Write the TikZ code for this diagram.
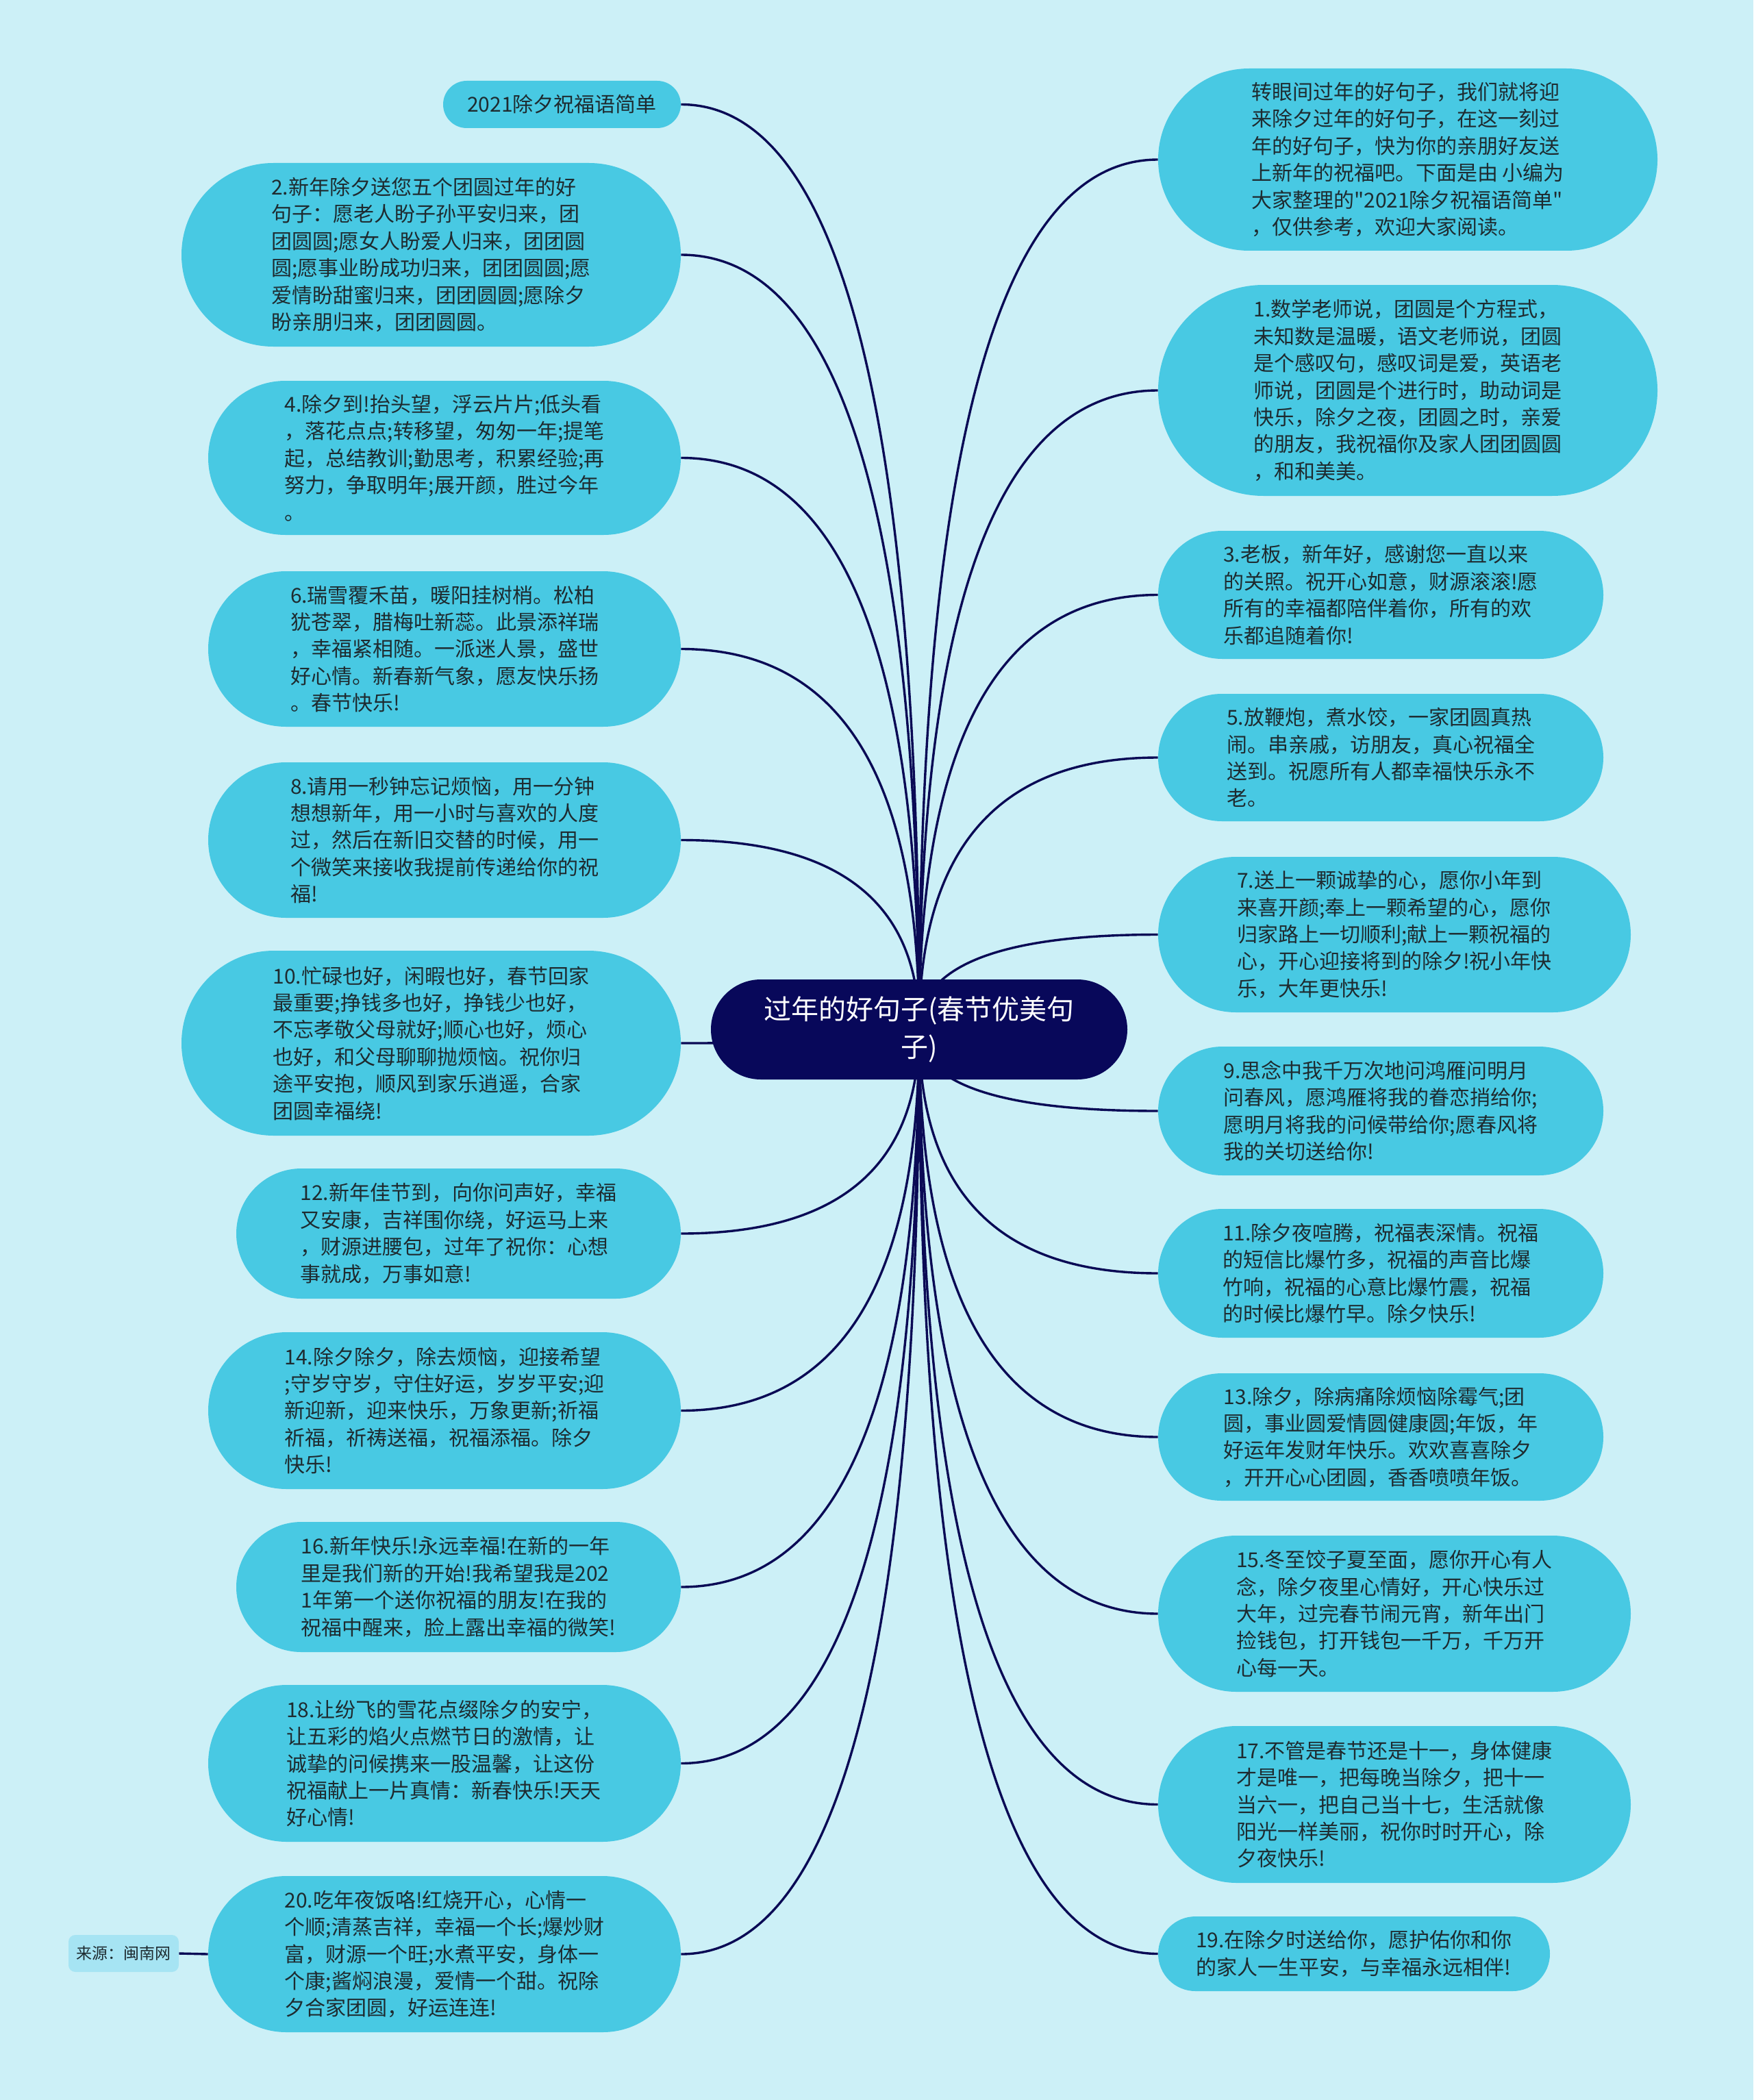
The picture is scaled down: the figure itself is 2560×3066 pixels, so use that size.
\documentclass[tikz,border=0pt]{standalone}
\usepackage{fontspec}
\newfontfamily\cjkfont{Noto Sans CJK SC}
\usetikzlibrary{shapes.misc,calc}
\definecolor{bgc}{HTML}{CCF0F7}
\definecolor{leafc}{HTML}{48C9E3}
\definecolor{rootc}{HTML}{08085A}
\definecolor{linec}{HTML}{0A0A55}
\definecolor{txtc}{HTML}{1E2B30}
\definecolor{srcc}{HTML}{A6E4F3}
\pgfdeclarelayer{bgl}
\pgfdeclarelayer{edgel}
\pgfsetlayers{bgl,edgel,main}
\newcommand\leaffont{\cjkfont\fontsize{15pt}{19.7pt}\selectfont}
\newcommand\rootfont{\cjkfont\fontsize{20pt}{27.5pt}\selectfont}
\newcommand\srcfont{\cjkfont\fontsize{11.5pt}{14pt}\selectfont}
\tikzset{
  leaf/.style={rounded rectangle, fill=leafc, text=txtc, font=\leaffont, align=left, inner sep=0pt},
  rootnode/.style={rounded rectangle, fill=rootc, text=white, font=\rootfont, align=center, inner sep=0pt},
  srcnode/.style={rectangle, rounded corners=5pt, fill=srcc, text=txtc, font=\srcfont, inner sep=0pt},
  linkline/.style={draw=linec, line width=1.7pt},
}
\newcommand\mmlink[2]{\draw[linkline] (root.center) .. controls ($(root.center)!0.6667!(root.center |- #1.#2)$) and ($(#1.#2)!0.6667!(root.center |- #1.#2)$) .. (#1.#2);}
\begin{document}
\begin{tikzpicture}[x=0.5pt,y=-0.5pt]
\useasboundingbox (0,0) rectangle (2560,3066);
\begin{pgfonlayer}{bgl}
\fill[bgc] (0,0) rectangle (2560,3066);
\end{pgfonlayer}

\node[rootnode, minimum width=304pt, minimum height=73pt] (root) at (1342,1503) {过年的好句子(春节优美句\\子)};

% left column
\node[leaf, minimum width=173.5pt, minimum height=34.5pt] (L0) at (820.5,152.5) {2021除夕祝福语简单};
\node[leaf, minimum width=364.5pt, minimum height=134pt] (L2) at (629.5,372) {2.新年除夕送您五个团圆过年的好\\句子：愿老人盼子孙平安归来，团\\团圆圆;愿女人盼爱人归来，团团圆\\圆;愿事业盼成功归来，团团圆圆;愿\\爱情盼甜蜜归来，团团圆圆;愿除夕\\盼亲朋归来，团团圆圆。};
\node[leaf, minimum width=345pt, minimum height=112.5pt] (L4) at (649,668.5) {4.除夕到!抬头望，浮云片片;低头看\\，落花点点;转移望，匆匆一年;提笔\\起，总结教训;勤思考，积累经验;再\\努力，争取明年;展开颜，胜过今年\\。};
\node[leaf, minimum width=345pt, minimum height=113.5pt] (L6) at (649,947.5) {6.瑞雪覆禾苗，暖阳挂树梢。松柏\\犹苍翠，腊梅吐新蕊。此景添祥瑞\\，幸福紧相随。一派迷人景，盛世\\好心情。新春新气象，愿友快乐扬\\。春节快乐!};
\node[leaf, minimum width=345pt, minimum height=113.5pt] (L8) at (649,1226.5) {8.请用一秒钟忘记烦恼，用一分钟\\想想新年，用一小时与喜欢的人度\\过，然后在新旧交替的时候，用一\\个微笑来接收我提前传递给你的祝\\福!};
\node[leaf, minimum width=364.5pt, minimum height=135pt] (L10) at (629.5,1523) {10.忙碌也好，闲暇也好，春节回家\\最重要;挣钱多也好，挣钱少也好，\\不忘孝敬父母就好;顺心也好，烦心\\也好，和父母聊聊抛烦恼。祝你归\\途平安抱，顺风到家乐逍遥，合家\\团圆幸福绕!};
\node[leaf, minimum width=324.5pt, minimum height=95pt] (L12) at (669.5,1801) {12.新年佳节到，向你问声好，幸福\\又安康，吉祥围你绕，好运马上来\\，财源进腰包，过年了祝你：心想\\事就成，万事如意!};
\node[leaf, minimum width=345pt, minimum height=114.5pt] (L14) at (649,2059.5) {14.除夕除夕，除去烦恼，迎接希望\\;守岁守岁，守住好运，岁岁平安;迎\\新迎新，迎来快乐，万象更新;祈福\\祈福，祈祷送福，祝福添福。除夕\\快乐!};
\node[leaf, minimum width=324.5pt, minimum height=95pt] (L16) at (669.5,2317) {16.新年快乐!永远幸福!在新的一年\\里是我们新的开始!我希望我是202\\1年第一个送你祝福的朋友!在我的\\祝福中醒来，脸上露出幸福的微笑!};
\node[leaf, minimum width=345pt, minimum height=114.5pt] (L18) at (649,2574.5) {18.让纷飞的雪花点缀除夕的安宁，\\让五彩的焰火点燃节日的激情，让\\诚挚的问候携来一股温馨，让这份\\祝福献上一片真情：新春快乐!天天\\好心情!};
\node[leaf, minimum width=345pt, minimum height=114pt] (L20) at (649,2853) {20.吃年夜饭咯!红烧开心，心情一\\个顺;清蒸吉祥，幸福一个长;爆炒财\\富，财源一个旺;水煮平安，身体一\\个康;酱焖浪漫，爱情一个甜。祝除\\夕合家团圆，好运连连!};
\node[srcnode, minimum width=80.5pt, minimum height=27pt] (src) at (180.5,2852) {来源：闽南网};

% right column
\node[leaf, minimum width=364.5pt, minimum height=133pt] (R0) at (2055.5,233) {转眼间过年的好句子，我们就将迎\\来除夕过年的好句子，在这一刻过\\年的好句子，快为你的亲朋好友送\\上新年的祝福吧。下面是由 小编为\\大家整理的"2021除夕祝福语简单"\\，仅供参考，欢迎大家阅读。};
\node[leaf, minimum width=364.5pt, minimum height=154pt] (R1) at (2055.5,570) {1.数学老师说，团圆是个方程式，\\未知数是温暖，语文老师说，团圆\\是个感叹句，感叹词是爱，英语老\\师说，团圆是个进行时，助动词是\\快乐，除夕之夜，团圆之时，亲爱\\的朋友，我祝福你及家人团团圆圆\\，和和美美。};
\node[leaf, minimum width=325pt, minimum height=93.5pt] (R3) at (2016,868.5) {3.老板，新年好，感谢您一直以来\\的关照。祝开心如意，财源滚滚!愿\\所有的幸福都陪伴着你，所有的欢\\乐都追随着你!};
\node[leaf, minimum width=325pt, minimum height=93pt] (R5) at (2016,1106) {5.放鞭炮，煮水饺，一家团圆真热\\闹。串亲戚，访朋友，真心祝福全\\送到。祝愿所有人都幸福快乐永不\\老。};
\node[leaf, minimum width=345pt, minimum height=113.5pt] (R7) at (2036,1364.5) {7.送上一颗诚挚的心，愿你小年到\\来喜开颜;奉上一颗希望的心，愿你\\归家路上一切顺利;献上一颗祝福的\\心，开心迎接将到的除夕!祝小年快\\乐，大年更快乐!};
\node[leaf, minimum width=325pt, minimum height=94pt] (R9) at (2016,1622) {9.思念中我千万次地问鸿雁问明月\\问春风，愿鸿雁将我的眷恋捎给你;\\愿明月将我的问候带给你;愿春风将\\我的关切送给你!};
\node[leaf, minimum width=325pt, minimum height=94pt] (R11) at (2016,1859) {11.除夕夜喧腾，祝福表深情。祝福\\的短信比爆竹多，祝福的声音比爆\\竹响，祝福的心意比爆竹震，祝福\\的时候比爆竹早。除夕快乐!};
\node[leaf, minimum width=325pt, minimum height=93pt] (R13) at (2016,2098) {13.除夕，除病痛除烦恼除霉气;团\\圆，事业圆爱情圆健康圆;年饭，年\\好运年发财年快乐。欢欢喜喜除夕\\，开开心心团圆，香香喷喷年饭。};
\node[leaf, minimum width=345pt, minimum height=114pt] (R15) at (2036,2356) {15.冬至饺子夏至面，愿你开心有人\\念，除夕夜里心情好，开心快乐过\\大年，过完春节闹元宵，新年出门\\捡钱包，打开钱包一千万，千万开\\心每一天。};
\node[leaf, minimum width=345pt, minimum height=114.5pt] (R17) at (2036,2634.5) {17.不管是春节还是十一，身体健康\\才是唯一，把每晚当除夕，把十一\\当六一，把自己当十七，生活就像\\阳光一样美丽，祝你时时开心，除\\夕夜快乐!};
\node[leaf, minimum width=286pt, minimum height=54.5pt] (R19) at (1977,2852.5) {19.在除夕时送给你，愿护佑你和你\\的家人一生平安，与幸福永远相伴!};

\begin{pgfonlayer}{edgel}
\foreach \n in {L0,L2,L4,L6,L8,L10,L12,L14,L16,L18,L20} {\mmlink{\n}{east}}
\foreach \n in {R0,R1,R3,R5,R7,R9,R11,R13,R15,R17,R19} {\mmlink{\n}{west}}
\draw[linkline] (src.east) -- (L20.west);
\end{pgfonlayer}
\end{tikzpicture}
\end{document}
